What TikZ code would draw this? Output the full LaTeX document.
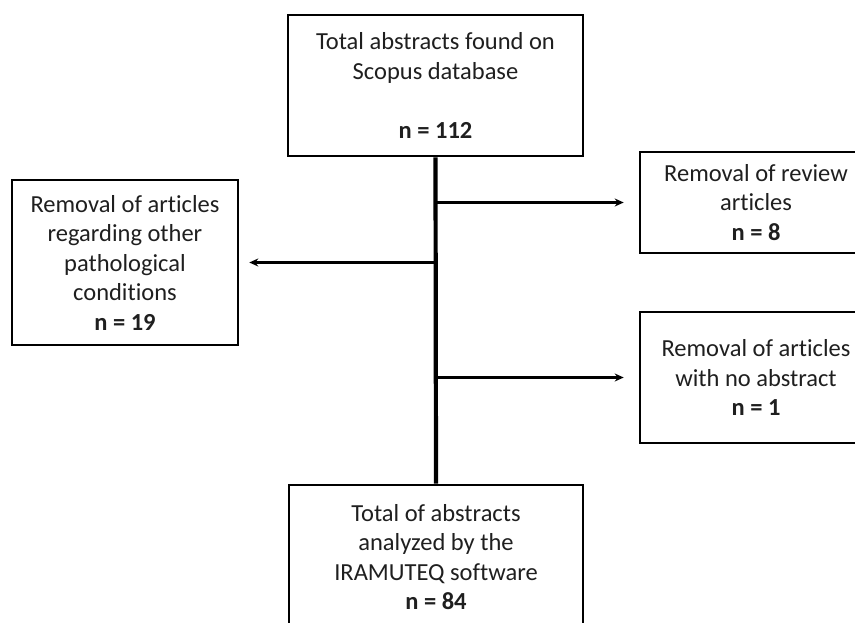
\documentclass[tikz,border=0pt]{standalone}
\usepackage{fontspec}
\setmainfont{Carlito}[Ligatures=NoCommon]
\usetikzlibrary{arrows.meta}
\begin{document}
\begin{tikzpicture}[x=1pt,y=-1pt,
  box/.style={draw=black,line width=2.6pt,inner sep=0pt,align=center,
    font=\fontsize{24.5}{29.5}\selectfont,text=black!88},
  arr/.style={line width=2.6pt,-{Stealth[length=9pt,width=8pt]}},
  trunk/.style={line width=4.2pt}]
\useasboundingbox (0,0) rectangle (855,623);
\clip (0,0) rectangle (855,623);
\node[box,minimum width=295pt,minimum height=141pt] (top) at (435.5,85.5)
  {Total abstracts found on\\Scopus database\\[29.5pt]\textbf{n = 112}};
\node[box,minimum width=226pt,minimum height=165pt] (left) at (125,262.5)
  {Removal of articles\\regarding other\\pathological\\conditions\\\textbf{n = 19}};
\node[box,minimum width=232pt,minimum height=101pt] (r1) at (756,202.5)
  {Removal of review\\articles\\\textbf{n = 8}};
\node[box,minimum width=232pt,minimum height=131pt] (r2) at (756,377.5)
  {Removal of articles\\with no abstract\\\textbf{n = 1}};
\node[box,minimum width=294pt,minimum height=144pt] (bot) at (436,557)
  {Total of abstracts\\analyzed by the\\IRAMUTEQ software\\\textbf{n = 84}};
\draw[trunk] (top.south) -- (bot.north);
\draw[arr,shorten >=15pt] (top.south |- r1.west) -- (r1.west);
\draw[arr,shorten >=15pt] (top.south |- r2.west) -- (r2.west);
\draw[arr,shorten >=10pt] (top.south |- left.east) -- (left.east);
\end{tikzpicture}
\end{document}
